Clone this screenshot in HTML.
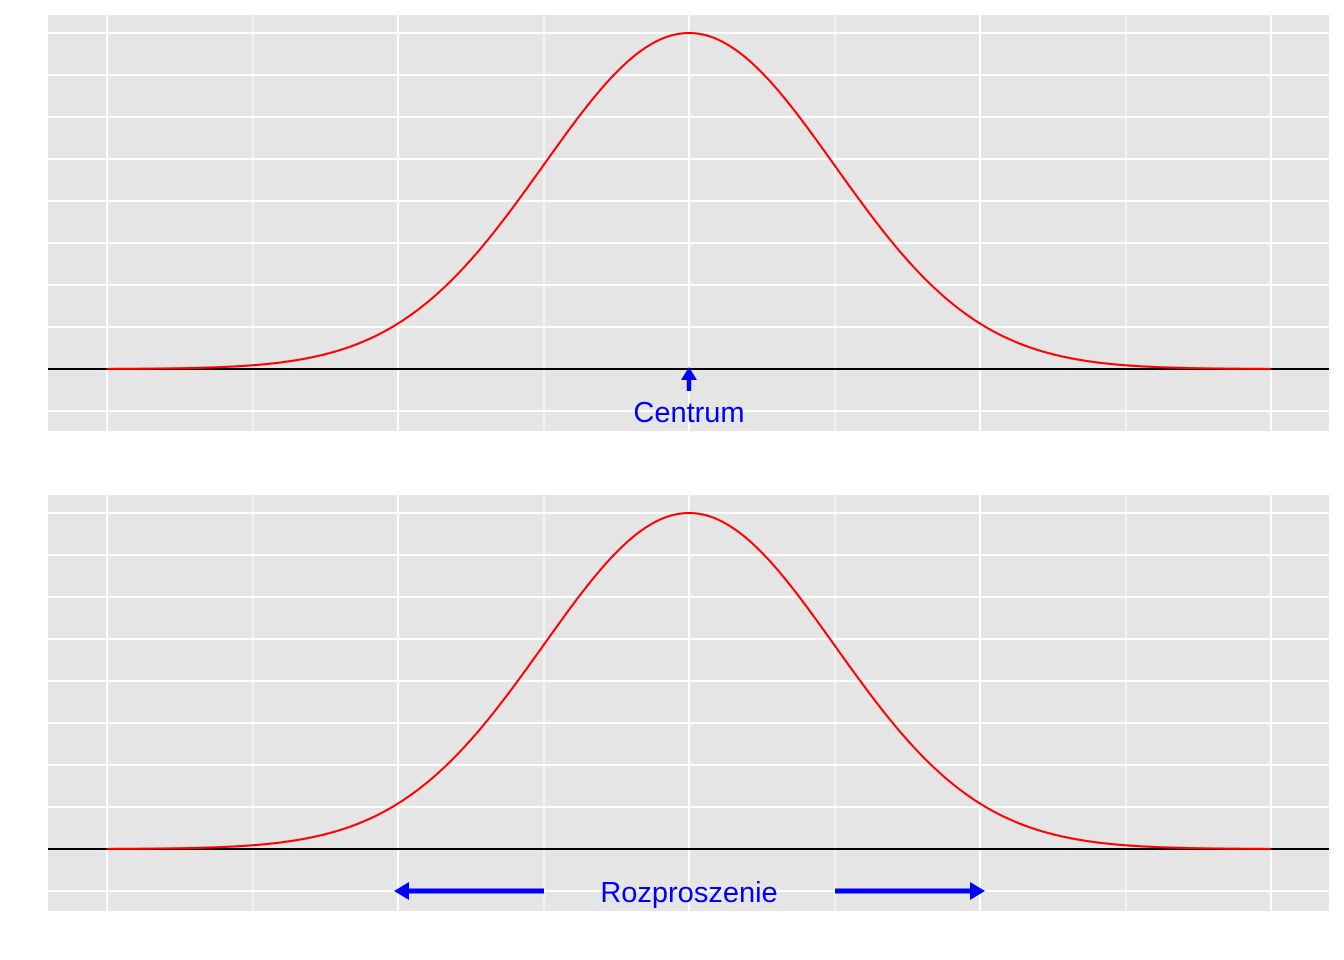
<!DOCTYPE html>
<html><head><meta charset="utf-8"><style>
html,body{margin:0;padding:0;background:#fff;}
svg{display:block;}
text{font-family:"Liberation Sans",Arial,sans-serif;}
</style></head><body>
<svg id="s" width="1344" height="960" xmlns="http://www.w3.org/2000/svg">
<rect width="1344" height="960" fill="#fff"/>
</svg>
<script>
var s=document.getElementById('s'),ns='http://www.w3.org/2000/svg';
function el(t,a,txt){var e=document.createElementNS(ns,t);for(var k in a)e.setAttribute(k,a[k]);if(txt)e.textContent=txt;s.appendChild(e);return e;}
[0,480].forEach(function(o){
  el('rect',{x:48,y:15+o,width:1281,height:416,fill:'#e5e5e5'});
  [253,544,835,1126].forEach(function(x){el('line',{x1:x,x2:x,y1:15+o,y2:431+o,stroke:'#fff','stroke-width':1.1});});
  for(var y=33;y<=411;y+=42){el('line',{x1:48,x2:1329,y1:y+o,y2:y+o,stroke:'#fff','stroke-width':2.1});}
  [107,398,689,980,1271].forEach(function(x){el('line',{x1:x,x2:x,y1:15+o,y2:431+o,stroke:'#fff','stroke-width':2.1});});
  el('line',{x1:48,x2:1329,y1:369+o,y2:369+o,stroke:'#000','stroke-width':2.1});
  var d='';
  for(var x=107;x<=1271;x+=2){var z=(x-689)/145.5;var y=369+o-336*Math.exp(-z*z/2);d+=(x==107?'M':'L')+x+' '+y.toFixed(2);}
  el('path',{d:d,fill:'none',stroke:'#ff0000','stroke-width':2.1});
});
el('line',{x1:689,x2:689,y1:391,y2:376,stroke:'#0000ff','stroke-width':4.5});
el('path',{d:'M681 380 L689 367 L697 380 Z',fill:'#0000ff'});
el('text',{x:689,y:422,'text-anchor':'middle','font-size':29,fill:'#0000ff'},'Centrum');
el('line',{x1:544,x2:405,y1:891,y2:891,stroke:'#0000ff','stroke-width':5});
el('path',{d:'M394 891 L409 882 L409 900 Z',fill:'#0000ff'});
el('line',{x1:835,x2:973,y1:891,y2:891,stroke:'#0000ff','stroke-width':5});
el('path',{d:'M985 891 L970 882 L970 900 Z',fill:'#0000ff'});
el('text',{x:689,y:902,'text-anchor':'middle','font-size':29,fill:'#0000ff'},'Rozproszenie');
</script>
</body></html>
